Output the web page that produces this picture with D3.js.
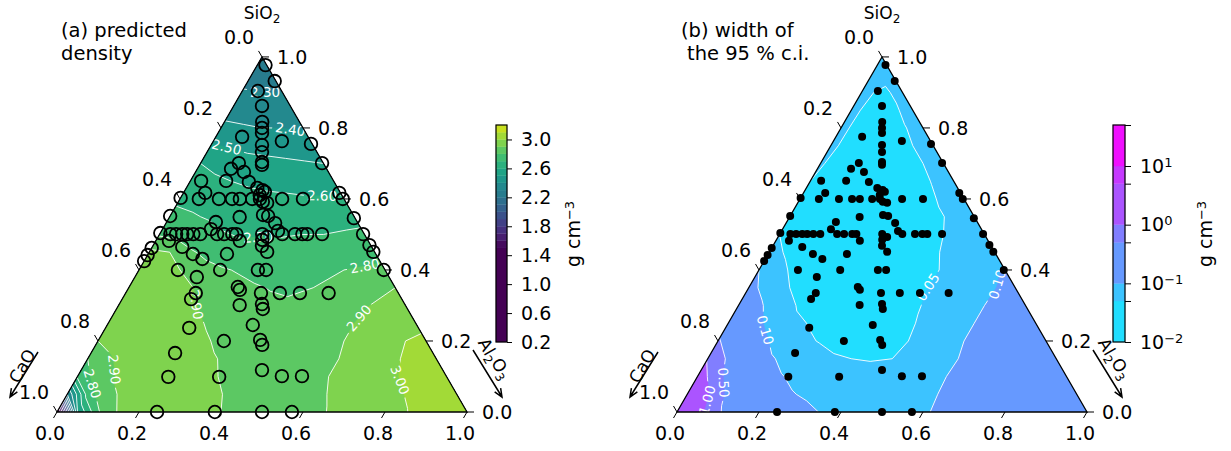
<!DOCTYPE html>
<html>
<head>
<meta charset="utf-8">
<script src="https://cdn.jsdelivr.net/npm/d3@7"></script>
<style>
  body { margin: 0; background: #fff; }
  svg { font-family: "DejaVu Sans", sans-serif; }
</style>
</head>
<body>
<svg id="chart" width="1231" height="451"></svg>
<script>
// field rows: SiO2 = 0, 0.05, ..., 1 ; each row lists Al2O3 = 0, 0.05, ... up to 1 - SiO2
const densityRows = [
  [1.3, 2.5, 2.79, 2.91, 2.93, 2.94, 2.94, 2.93, 2.90, 2.885, 2.875, 2.87, 2.875, 2.895, 2.93, 2.95, 2.975, 2.995, 3.04, 3.07, 3.10],
  [2.3, 2.75, 2.885, 2.92, 2.94, 2.95, 2.94, 2.92, 2.885, 2.875, 2.87, 2.87, 2.88, 2.91, 2.94, 2.965, 2.985, 3.02, 3.06, 3.09],
  [2.72, 2.85, 2.91, 2.94, 2.95, 2.95, 2.93, 2.895, 2.88, 2.87, 2.87, 2.875, 2.89, 2.93, 2.96, 2.98, 3.01, 3.05, 3.08],
  [2.80, 2.89, 2.93, 2.95, 2.96, 2.95, 2.91, 2.88, 2.87, 2.86, 2.86, 2.87, 2.89, 2.93, 2.96, 2.99, 3.03, 3.06],
  [2.90, 2.93, 2.95, 2.96, 2.95, 2.92, 2.88, 2.86, 2.85, 2.845, 2.85, 2.87, 2.90, 2.94, 2.97, 3.00, 3.03],
  [2.91, 2.94, 2.96, 2.95, 2.93, 2.885, 2.86, 2.84, 2.83, 2.83, 2.84, 2.86, 2.90, 2.94, 2.97, 2.99],
  [2.92, 2.95, 2.95, 2.94, 2.89, 2.86, 2.84, 2.82, 2.81, 2.815, 2.83, 2.85, 2.89, 2.93, 2.95],
  [2.93, 2.94, 2.93, 2.91, 2.85, 2.83, 2.81, 2.795, 2.79, 2.80, 2.81, 2.83, 2.87, 2.90],
  [2.93, 2.92, 2.90, 2.83, 2.81, 2.79, 2.77, 2.756, 2.765, 2.785, 2.80, 2.81, 2.83],
  [2.92, 2.90, 2.81, 2.775, 2.74, 2.73, 2.725, 2.727, 2.735, 2.745, 2.76, 2.77],
  [2.79, 2.76, 2.74, 2.71, 2.69, 2.695, 2.695, 2.70, 2.70, 2.71, 2.725],
  [2.73, 2.71, 2.69, 2.66, 2.655, 2.655, 2.655, 2.655, 2.66, 2.67],
  [2.68, 2.67, 2.65, 2.63, 2.62, 2.615, 2.61, 2.61, 2.61],
  [2.64, 2.62, 2.60, 2.585, 2.575, 2.57, 2.56, 2.555],
  [2.60, 2.57, 2.54, 2.53, 2.52, 2.51, 2.50],
  [2.51, 2.49, 2.47, 2.46, 2.45, 2.44],
  [2.42, 2.41, 2.40, 2.40, 2.39],
  [2.37, 2.36, 2.36, 2.35],
  [2.31, 2.30, 2.30],
  [2.26, 2.26],
  [2.22],
];
const densityLevels = [0.2, 1.5, 1.6, 1.7, 1.8, 1.9, 2.0, 2.1, 2.2, 2.3, 2.4, 2.5, 2.6, 2.7, 2.8, 2.9, 3.0, 3.1, 3.2];
const densityLabels = [
  { level: 2.3, sio2: 0.885, al2o3: 0.065 },
  { level: 2.4, sio2: 0.791, al2o3: 0.173 },
  { level: 2.5, sio2: 0.752, al2o3: 0.039 },
  { level: 2.6, sio2: 0.611, al2o3: 0.341 },
  { level: 2.7, sio2: 0.501, al2o3: 0.240 },
  { level: 2.8, sio2: 0.437, al2o3: 0.528 },
  { level: 2.9, sio2: 0.279, al2o3: 0.583 },
  { level: 2.9, sio2: 0.301, al2o3: 0.181 },
  { level: 3.0, sio2: 0.085, al2o3: 0.782 },
  { level: 2.9, sio2: 0.118, al2o3: 0.065 },
  { level: 2.8, sio2: 0.082, al2o3: 0.052 },
];

const ciRows = [
  [4.5, 1.3, 0.55, 0.3, 0.2, 0.15, 0.12, 0.098, 0.09, 0.085, 0.083, 0.088, 0.095, 0.11, 0.13, 0.15, 0.17, 0.19, 0.21, 0.23, 0.26],
  [3.0, 1.05, 0.42, 0.22, 0.14, 0.105, 0.09, 0.08, 0.075, 0.072, 0.075, 0.08, 0.095, 0.12, 0.14, 0.16, 0.18, 0.2, 0.22, 0.25],
  [1.6, 0.6, 0.3, 0.16, 0.105, 0.085, 0.075, 0.068, 0.063, 0.062, 0.068, 0.078, 0.097, 0.12, 0.14, 0.16, 0.18, 0.2, 0.23],
  [0.95, 0.45, 0.2, 0.11, 0.08, 0.068, 0.058, 0.05, 0.048, 0.05, 0.058, 0.072, 0.095, 0.12, 0.14, 0.16, 0.19, 0.22],
  [0.55, 0.25, 0.13, 0.075, 0.058, 0.048, 0.035, 0.03, 0.03, 0.045, 0.065, 0.08, 0.1, 0.12, 0.14, 0.17, 0.2],
  [0.3, 0.15, 0.085, 0.06, 0.048, 0.036, 0.028, 0.027, 0.03, 0.048, 0.065, 0.08, 0.1, 0.12, 0.15, 0.18],
  [0.16, 0.11, 0.07, 0.046, 0.035, 0.028, 0.026, 0.026, 0.033, 0.052, 0.068, 0.083, 0.10, 0.13, 0.16],
  [0.12, 0.08, 0.05, 0.036, 0.028, 0.026, 0.025, 0.026, 0.036, 0.057, 0.07, 0.082, 0.098, 0.13],
  [0.1, 0.058, 0.04, 0.03, 0.026, 0.025, 0.025, 0.027, 0.035, 0.055, 0.07, 0.085, 0.105],
  [0.062, 0.045, 0.034, 0.028, 0.025, 0.024, 0.025, 0.03, 0.046, 0.06, 0.075, 0.092],
  [0.05, 0.036, 0.03, 0.026, 0.024, 0.024, 0.026, 0.033, 0.05, 0.065, 0.085],
  [0.048, 0.036, 0.03, 0.026, 0.025, 0.025, 0.028, 0.042, 0.058, 0.075],
  [0.048, 0.038, 0.03, 0.027, 0.025, 0.028, 0.038, 0.058, 0.07],
  [0.05, 0.04, 0.03, 0.028, 0.028, 0.035, 0.053, 0.07],
  [0.053, 0.04, 0.032, 0.03, 0.035, 0.05, 0.068],
  [0.057, 0.04, 0.033, 0.033, 0.05, 0.07],
  [0.058, 0.04, 0.035, 0.046, 0.07],
  [0.06, 0.04, 0.042, 0.07],
  [0.065, 0.042, 0.065],
  [0.07, 0.07],
  [0.08],
];
const ciLevels = [0.01, 0.05, 0.1, 0.5, 1, 5, 10, 50];
const ciLabels = [
  { level: 0.05, sio2: 0.352, al2o3: 0.436 },
  { level: 0.1, sio2: 0.363, al2o3: 0.589 },
  { level: 0.1, sio2: 0.231, al2o3: 0.100 },
  { level: 0.5, sio2: 0.082, al2o3: 0.059 },
  { level: 1, sio2: 0.034, al2o3: 0.054 },
];

// measured glass compositions (mole fractions), CaO = 1 - SiO2 - Al2O3
const sampleSiO2 = [
  0.977, 0.932, 0.904, 0.862, 0.817, 0.800, 0.786, 0.775, 0.763, 0.755,
  0.752, 0.732, 0.704, 0.696, 0.701, 0.701, 0.685, 0.676, 0.651, 0.651,
  0.648, 0.631, 0.625, 0.620, 0.611, 0.617, 0.600, 0.600, 0.600, 0.600,
  0.600, 0.600, 0.592, 0.589, 0.600, 0.600, 0.617, 0.600, 0.549, 0.535,
  0.515, 0.555, 0.552, 0.532, 0.510, 0.546, 0.501, 0.501, 0.501, 0.501,
  0.501, 0.501, 0.501, 0.501, 0.501, 0.501, 0.501, 0.493, 0.485, 0.501,
  0.501, 0.501, 0.501, 0.501, 0.501, 0.470, 0.451, 0.482, 0.482, 0.468,
  0.451, 0.465, 0.445, 0.445, 0.431, 0.400, 0.400, 0.400, 0.400, 0.400,
  0.380, 0.352, 0.344, 0.335, 0.318, 0.335, 0.335, 0.335, 0.335, 0.301,
  0.304, 0.290, 0.245, 0.237, 0.200, 0.203, 0.189, 0.166, 0.118, 0.099,
  0.099, 0.101, 0.101, 0.000, 0.000, 0.000, 0.000, 0.603, 0.552, 0.504,
  0.462, 0.442, 0.425,
];
const sampleAl2O3 = [
  0.020, 0.065, 0.038, 0.069, 0.092, 0.100, 0.107, 0.064, 0.167, 0.242,
  0.124, 0.134, 0.148, 0.152, 0.296, 0.093, 0.082, 0.118, 0.026, 0.087,
  0.144, 0.173, 0.189, 0.197, 0.189, 0.053, 0.046, 0.095, 0.127, 0.146,
  0.176, 0.195, 0.206, 0.218, 0.249, 0.300, 0.380, 0.397, 0.171, 0.120,
  0.118, 0.225, 0.239, 0.266, 0.284, 0.451, 0.026, 0.040, 0.055, 0.067,
  0.082, 0.099, 0.140, 0.157, 0.177, 0.187, 0.250, 0.266, 0.258, 0.299,
  0.330, 0.348, 0.360, 0.396, 0.496, 0.527, 0.546, 0.032, 0.205, 0.266,
  0.287, 0.073, 0.109, 0.192, 0.139, 0.095, 0.198, 0.290, 0.310, 0.597,
  0.151, 0.265, 0.274, 0.171, 0.168, 0.330, 0.376, 0.425, 0.495, 0.295,
  0.348, 0.357, 0.355, 0.204, 0.307, 0.394, 0.406, 0.205, 0.441, 0.222,
  0.346, 0.498, 0.547, 0.244, 0.385, 0.500, 0.573, 0.000, 0.000, 0.000,
  0.000, 0.000, 0.000,
];

const ternaryTicks = [0, 0.2, 0.4, 0.6, 0.8, 1.0];
const densityBarTicks = [0.2, 0.6, 1.0, 1.4, 1.8, 2.2, 2.6, 3.0];

const SIDE = 410;
const BASE_Y = 412;
const TOP_Y = BASE_Y - (SIDE * Math.sqrt(3)) / 2;
const FONT = 19;

const svg = d3.select('#chart');

const densityColor = d3.scaleSequential(d3.interpolateViridis).domain([1.5, 3.3]).clamp(true);
const coolColor = d3
  .scaleSequentialLog(d3.interpolateRgb('#00ffff', '#ff00ff'))
  .domain([0.01, 50]);

const makeProjection = (left) => {
  const x = d3.scaleLinear([0, 1], [left, left + SIDE]);
  const y = d3.scaleLinear([0, 1], [BASE_Y, TOP_Y]);
  // (SiO2, Al2O3) -> pixel
  return (t, b) => [x(b + t / 2), y(t)];
};

const toGrid = (rows) => {
  const n = rows.length;
  const values = new Array(n * n);
  rows.forEach((row, j) => {
    for (let i = 0; i < n; i++) values[j * n + i] = row[Math.min(i, row.length - 1)];
  });
  return { n, values };
};

const nearestOnRings = (rings, target) => {
  let best = { d: Infinity };
  rings.forEach((ring) => {
    for (let i = 0; i < ring.length - 1; i++) {
      const [ax, ay] = ring[i];
      const [bx, by] = ring[i + 1];
      const dx = bx - ax;
      const dy = by - ay;
      const len2 = dx * dx + dy * dy || 1;
      const s = Math.max(0, Math.min(1, ((target[0] - ax) * dx + (target[1] - ay) * dy) / len2));
      const px = ax + s * dx;
      const py = ay + s * dy;
      const d = (px - target[0]) ** 2 + (py - target[1]) ** 2;
      if (d < best.d) best = { d, x: px, y: py, angle: (Math.atan2(dy, dx) * 180) / Math.PI };
    }
  });
  if (best.angle > 90) best.angle -= 180;
  if (best.angle < -90) best.angle += 180;
  return best;
};

const subText = (text, parts, size) => {
  parts.forEach(([s, kind]) => {
    const span = text.append('tspan').text(s);
    if (kind === 'sub') span.attr('font-size', size).attr('dy', '0.3em');
    if (kind === 'base') span.attr('dy', '-0.3em');
  });
};

const drawPanel = ({ id, left, rows, levels, bandColors, transform, labels, labelFormat, title }) => {
  const proj = makeProjection(left);
  const g = svg.append('g').attr('id', id);
  const corners = [proj(0, 0), proj(0, 1), proj(1, 0)];

  g.append('clipPath')
    .attr('id', `${id}-clip`)
    .append('path')
    .attr('d', `M${corners.join('L')}Z`);

  const { n, values } = toGrid(rows);
  const step = 1 / (n - 1);
  const field = values.map(transform);
  const gridToPixel = (gx, gy) => proj((gy - 0.5) * step, (gx - 0.5) * step);
  const gridPath = d3.geoPath(
    d3.geoTransform({
      point(gx, gy) {
        const [px, py] = gridToPixel(gx, gy);
        this.stream.point(px, py);
      },
    }),
  );

  const fillGroup = g.append('g').attr('clip-path', `url(#${id}-clip)`);
  fillGroup
    .append('path')
    .attr('d', `M${corners.join('L')}Z`)
    .attr('fill', bandColors[0]);

  const fillContours = d3
    .contours()
    .size([n, n])
    .thresholds(levels.slice(1, -1).map(transform))(field);
  fillContours.forEach((c, k) => {
    fillGroup
      .append('path')
      .attr('d', gridPath(c))
      .attr('fill', bandColors[k + 1])
      .attr('stroke', bandColors[k + 1])
      .attr('stroke-width', 0.4);
  });

  // contour lines, broken under the inline labels
  const mask = g
    .append('mask')
    .attr('id', `${id}-mask`)
    .attr('maskUnits', 'userSpaceOnUse')
    .attr('x', 0)
    .attr('y', 0)
    .attr('width', 1231)
    .attr('height', 451);
  mask.append('rect').attr('width', 1231).attr('height', 451).attr('fill', '#fff');

  const lineGroup = fillGroup.append('g').attr('mask', `url(#${id}-mask)`);
  fillContours.forEach((c) => {
    lineGroup
      .append('path')
      .attr('d', gridPath(c))
      .attr('fill', 'none')
      .attr('stroke', '#fff')
      .attr('stroke-width', 0.9);
  });

  const labelSize = 13.5;
  labels.forEach(({ level, sio2, al2o3 }) => {
    const c = fillContours.find((d) => Math.abs(d.value - transform(level)) < 1e-9);
    if (!c) return;
    const rings = c.coordinates.flatMap((poly) =>
      poly.map((ring) => ring.map(([gx, gy]) => gridToPixel(gx, gy))),
    );
    const target = proj(sio2, al2o3);
    const p = nearestOnRings(rings, target);
    if (!(p.d < 50 * 50)) return;
    const txt = labelFormat(level);
    const w = txt.length * labelSize * 0.6 + 4;
    const tr = `translate(${p.x},${p.y}) rotate(${p.angle})`;
    mask
      .append('rect')
      .attr('x', -w / 2)
      .attr('y', -labelSize / 2)
      .attr('width', w)
      .attr('height', labelSize)
      .attr('transform', tr)
      .attr('fill', '#000');
    fillGroup
      .append('text')
      .attr('transform', tr)
      .attr('text-anchor', 'middle')
      .attr('dy', '0.36em')
      .attr('font-size', labelSize)
      .attr('fill', '#fff')
      .text(txt);
  });

  // triangle frame and ticks
  g.append('path')
    .attr('d', `M${corners.join('L')}Z`)
    .attr('fill', 'none')
    .attr('stroke', '#000')
    .attr('stroke-width', 1.3);

  const tickG = g.append('g').attr('font-size', FONT);
  ternaryTicks.forEach((v) => {
    const label = v.toFixed(1);
    // bottom: Al2O3
    const pb = proj(0, v);
    tickG.append('line').attr('x1', pb[0]).attr('y1', pb[1]).attr('x2', pb[0] - 3.5).attr('y2', pb[1] + 6).attr('stroke', '#000');
    tickG.append('text').attr('x', pb[0] - 7).attr('y', pb[1] + 21).attr('dy', '0.36em').attr('text-anchor', 'middle').text(label);
    // right: SiO2
    const pr = proj(v, 1 - v);
    tickG.append('line').attr('x1', pr[0]).attr('y1', pr[1]).attr('x2', pr[0] + 7).attr('y2', pr[1]).attr('stroke', '#000');
    tickG.append('text').attr('x', pr[0] + 15).attr('y', pr[1]).attr('dy', '0.36em').text(label);
    // left: CaO
    const pl = proj(1 - v, 0);
    tickG.append('line').attr('x1', pl[0]).attr('y1', pl[1]).attr('x2', pl[0] - 3.5).attr('y2', pl[1] - 6).attr('stroke', '#000');
    tickG.append('text').attr('x', pl[0] - 23).attr('y', pl[1] - 20).attr('dy', '0.36em').attr('text-anchor', 'middle').text(label);
  });

  // axis titles
  const top = proj(1, 0);
  subText(
    g.append('text').attr('x', top[0]).attr('y', 19).attr('text-anchor', 'middle').attr('font-size', 17),
    [['SiO', ''], ['2', 'sub']],
    12,
  );

  const bl = proj(0, 0);
  g.append('text')
    .attr('transform', `translate(${bl[0] - 35},${bl[1] - 46}) rotate(-60)`)
    .attr('text-anchor', 'middle')
    .attr('dy', '0.36em')
    .attr('font-size', 17)
    .text('CaO');
  const arrow = (x1, y1, x2, y2) => {
    const a = Math.atan2(y2 - y1, x2 - x1);
    const h = 9;
    g.append('path')
      .attr(
        'd',
        `M${x1},${y1}L${x2},${y2}` +
          `M${x2 - h * Math.cos(a - 0.4)},${y2 - h * Math.sin(a - 0.4)}L${x2},${y2}` +
          `L${x2 - h * Math.cos(a + 0.4)},${y2 - h * Math.sin(a + 0.4)}`,
      )
      .attr('fill', 'none')
      .attr('stroke', '#000')
      .attr('stroke-width', 1.5);
  };
  arrow(bl[0] - 19, bl[1] - 60, bl[0] - 47, bl[1] - 15);

  const br = proj(0, 1);
  subText(
    g.append('text')
      .attr('transform', `translate(${br[0] + 27},${br[1] - 53}) rotate(60)`)
      .attr('text-anchor', 'middle')
      .attr('dy', '0.36em')
      .attr('font-size', 17),
    [['Al', ''], ['2', 'sub'], ['O', 'base'], ['3', 'sub']],
    12,
  );
  arrow(br[0] + 6, br[1] - 62, br[0] + 35, br[1] - 15);

  // panel title
  const tt = g.append('text').attr('font-size', 19.5);
  tt.append('tspan').attr('x', left + 4).attr('y', 37).text(title[0]);
  tt.append('tspan').attr('x', left + 4 + title[2]).attr('y', 60).text(title[1]);

  return { g, proj };
};

// ---- panel (a) ----
const panelA = drawPanel({
  id: 'density',
  left: 57,
  rows: densityRows,
  levels: densityLevels,
  bandColors: d3.pairs(densityLevels, (a, b) => densityColor((a + b) / 2)),
  transform: (v) => v,
  labels: densityLabels,
  labelFormat: d3.format('.2f'),
  title: ['(a) predicted', 'density', 0],
});
panelA.g
  .append('g')
  .selectAll('circle')
  .data(sampleSiO2.map((t, i) => panelA.proj(t, sampleAl2O3[i])))
  .join('circle')
  .attr('cx', (d) => d[0])
  .attr('cy', (d) => d[1])
  .attr('r', 6.3)
  .attr('fill', 'none')
  .attr('stroke', '#000')
  .attr('stroke-width', 1.8);

// ---- panel (b) ----
const panelB = drawPanel({
  id: 'ci',
  left: 677,
  rows: ciRows,
  levels: ciLevels,
  bandColors: d3.pairs(ciLevels, (a, b) => coolColor((a + b) / 2)),
  transform: Math.log10,
  labels: ciLabels,
  labelFormat: d3.format('.2f'),
  title: ['(b) width of', 'the 95 % c.i.', 6],
});
panelB.g
  .append('g')
  .selectAll('circle')
  .data(sampleSiO2.map((t, i) => panelB.proj(t, sampleAl2O3[i])))
  .join('circle')
  .attr('cx', (d) => d[0])
  .attr('cy', (d) => d[1])
  .attr('r', 4)
  .attr('fill', '#000');

// ---- colorbars ----
const drawColorbar = ({ x, width, scale, levels, colors, axis }) => {
  const g = svg.append('g');
  d3.pairs(levels).forEach(([a, b], k) => {
    g.append('rect')
      .attr('x', x)
      .attr('y', scale(b))
      .attr('width', width)
      .attr('height', scale(a) - scale(b))
      .attr('fill', colors[k])
      .attr('stroke', colors[k])
      .attr('stroke-width', 0.3);
  });
  const [y0, y1] = scale.range();
  g.append('rect')
    .attr('x', x)
    .attr('y', y1)
    .attr('width', width)
    .attr('height', y0 - y1)
    .attr('fill', 'none')
    .attr('stroke', '#000')
    .attr('stroke-width', 1.2);
  const ax = g
    .append('g')
    .attr('transform', `translate(${x + width},0)`)
    .call(axis)
    .attr('font-size', FONT)
    .attr('font-family', null);
  ax.select('.domain').remove();
  return { g, ax };
};

const unitLabel = (x, y) => {
  const t = svg
    .append('text')
    .attr('transform', `translate(${x},${y}) rotate(-90)`)
    .attr('text-anchor', 'middle')
    .attr('font-size', FONT);
  t.append('tspan').text('g cm');
  t.append('tspan').attr('dy', '-0.45em').attr('font-size', 13).text('−3');
};

const densityBarScale = d3.scaleLinear([0.2, 3.2], [342, 125]);
drawColorbar({
  x: 496,
  width: 11,
  scale: densityBarScale,
  levels: densityLevels,
  colors: d3.pairs(densityLevels, (a, b) => densityColor((a + b) / 2)),
  axis: d3.axisRight(densityBarScale).tickValues(densityBarTicks).tickSize(5).tickPadding(9).tickFormat(d3.format('.1f')),
});
unitLabel(580, 234);

const ciBarScale = d3.scaleLog([0.01, 50], [342, 125]);
const ciBar = drawColorbar({
  x: 1113,
  width: 12,
  scale: ciBarScale,
  levels: ciLevels,
  colors: d3.pairs(ciLevels, (a, b) => coolColor((a + b) / 2)),
  axis: d3.axisRight(ciBarScale).tickValues(ciLevels).tickSize(6).tickPadding(9),
});
ciBar.ax.selectAll('.tick text').each(function (d) {
  const e = Math.round(Math.log10(d));
  const t = d3.select(this).text(null);
  if (Math.abs(Math.log10(d) - e) > 1e-6) return;
  t.append('tspan').text('10');
  t.append('tspan').attr('dy', '-0.45em').attr('font-size', 13).text(e < 0 ? `−${-e}` : `${e}`);
});
unitLabel(1212, 234);
</script>
</body>
</html>
